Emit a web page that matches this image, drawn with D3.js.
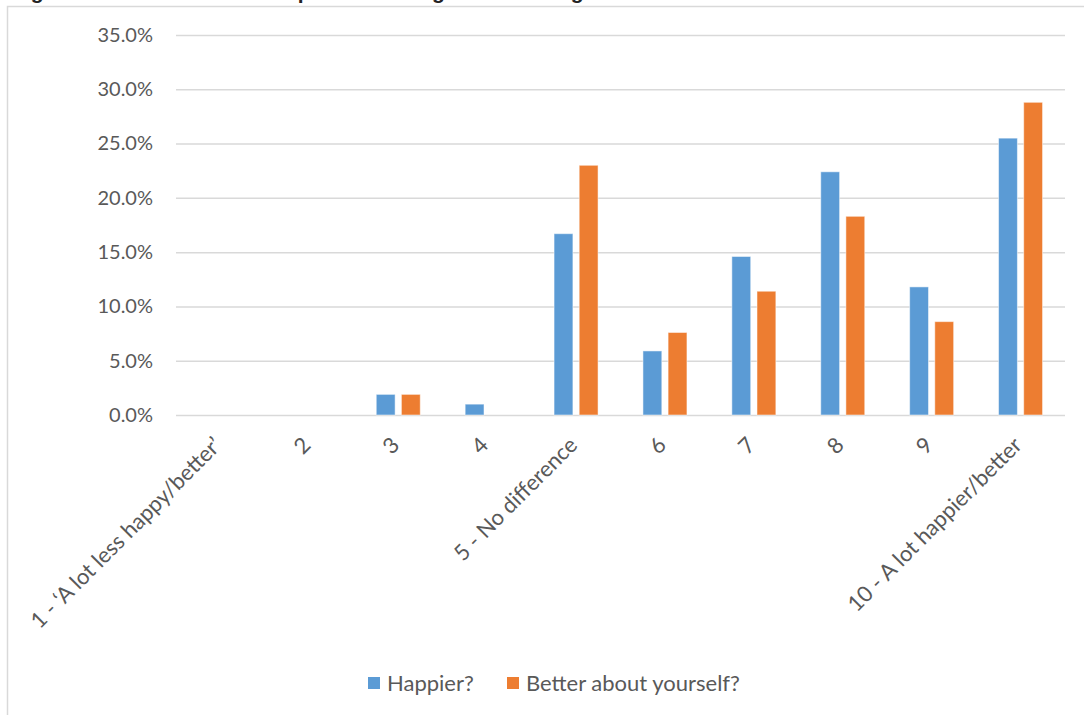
<!DOCTYPE html>
<html>
<head>
<meta charset="utf-8">
<script src="https://cdn.jsdelivr.net/npm/d3@7"></script>
<style>
  body { margin: 0; background: #fff; }
  svg { display: block; font-family: Lato, "Open Sans", sans-serif; }
</style>
</head>
<body>
<svg id="chart" width="1084" height="715"></svg>
<script>
// ---- data ----
var categories = ["1 - \u2018A lot less happy/better\u2019", "2", "3", "4", "5 - No difference",
                  "6", "7", "8", "9", "10 - A lot happier/better"];
var seriesNames = ["Happier?", "Better about yourself?"];
var happier = [0, 0, 1.9, 1.0, 16.7, 5.9, 14.6, 22.4, 11.8, 25.5];
var betterSelf = [0, 0, 1.9, 0, 23.0, 7.6, 11.4, 18.3, 8.6, 28.8];
var yTicks = [0, 5, 10, 15, 20, 25, 30, 35];
var colours = ["#5B9BD5", "#ED7D31"];

var svg = d3.select("#chart");

// chart frame (cut off on the right and bottom)
svg.append("path")
    .attr("d", "M7.5,715 V6.5 H1084")
    .attr("fill", "none")
    .attr("stroke", "#d9d9d9")
    .attr("stroke-width", 1.5);

// title, mostly out of view at the top
svg.append("text")
    .attr("x", 12)
    .attr("y", -1.5)
    .style("font-family", "'Liberation Sans', Arial, sans-serif")
    .style("font-weight", "bold")
    .style("font-size", "21px")
    .attr("fill", "#222")
    .text("Figure 1 \u2013 Distribution of respondent ratings of wellbeing");

var plotL = 176, plotR = 1065, plotT = 35, plotB = 415;

var x = d3.scaleBand().domain(categories).range([plotL, plotR]).paddingInner(0).paddingOuter(0);
var pairW = 44;
var x1 = d3.scaleBand().domain(seriesNames).range([0, pairW]).paddingInner(0.25).paddingOuter(0);
var y = d3.scaleLinear().domain([0, 35]).range([plotB, plotT]);

// gridlines + y labels
var yAxis = d3.axisLeft(y)
    .tickValues(yTicks)
    .tickSize(-(plotR - plotL))
    .tickPadding(23)
    .tickFormat(function (d) { return d.toFixed(1) + "%"; });

var gy = svg.append("g")
    .attr("transform", "translate(" + plotL + ",0)")
    .call(yAxis);
gy.select(".domain").remove();
gy.selectAll("line").attr("stroke", "#d9d9d9").attr("stroke-width", 1.5);
gy.selectAll("text")
    .attr("fill", "#595959")
    .style("font-family", "Lato, sans-serif")
    .style("font-size", "20px");

// bars
var rows = categories.map(function (c, i) {
    return { cat: c, values: [happier[i], betterSelf[i]] };
});

var groups = svg.append("g").selectAll("g.cat")
    .data(rows)
    .enter()
    .append("g")
    .classed("cat", true)
    .attr("transform", function (d) {
        return "translate(" + (x(d.cat) + (x.bandwidth() - pairW) / 2) + ",0)";
    });

groups.selectAll("rect")
    .data(function (d) {
        return d.values.map(function (v, j) { return { name: seriesNames[j], v: v, j: j }; });
    })
    .enter()
    .append("rect")
    .filter(function (d) { return d.v > 0; })
    .attr("x", function (d) { return x1(d.name); })
    .attr("width", x1.bandwidth())
    .attr("y", function (d) { return y(d.v); })
    .attr("height", function (d) { return y(0) - y(d.v); })
    .attr("fill", function (d) { return colours[d.j]; })
    .attr("stroke", "#fff")
    .attr("stroke-opacity", 0.5)
    .attr("stroke-width", 1);

// rotated category labels
svg.append("g").selectAll("text")
    .data(categories)
    .enter()
    .append("text")
    .attr("text-anchor", "end")
    .attr("transform", function (d) {
        return "translate(" + (x(d) + x.bandwidth() / 2 - 6) + ",438) rotate(-45)";
    })
    .attr("dy", "0.55em")
    .attr("fill", "#595959")
    .style("font-size", "22px")
    .text(function (d) { return d; });

// legend
var legend = svg.append("g").attr("transform", "translate(368,683)");
var legendX = [0, 139];
seriesNames.forEach(function (n, i) {
    var g = legend.append("g").attr("transform", "translate(" + legendX[i] + ",0)");
    g.append("rect")
        .attr("x", 0).attr("y", -6)
        .attr("width", 12).attr("height", 12)
        .attr("fill", colours[i]);
    g.append("text")
        .attr("x", 19)
        .attr("dy", "0.36em")
        .attr("fill", "#595959")
        .style("font-size", "22px")
        .text(n);
});
</script>
</body>
</html>
